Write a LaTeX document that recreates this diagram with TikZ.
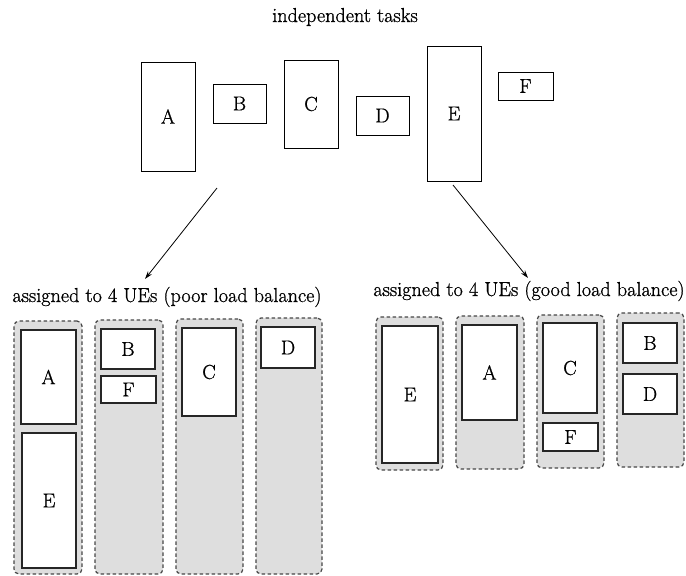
\documentclass[tikz,border=0pt]{standalone}
\usepackage{fontspec}
\newfontfamily\labelfont{Latin Modern Roman}[FakeBold=0.9]
\usetikzlibrary{arrows.meta}
\begin{document}
\begin{tikzpicture}[x=1pt,y=-1pt,
  every node/.style={font=\labelfont\fontsize{20.2}{24}\selectfont},
  box/.style n args={2}{minimum width=#1, minimum height=#2, inner sep=0pt},
  task/.style={draw=black, line width=0.8pt},
  ue/.style={draw=black!72, line width=1.2pt, dash pattern=on 3.5pt off 2.5pt,
    rounded corners=5pt, fill=black!13},
  slot/.style={draw=black!85, line width=1.4pt, fill=white},
  assign/.style={-{Stealth[length=8pt,width=5pt]}, line width=0.8pt},
  caption/.style={anchor=base, inner sep=0pt}]
\useasboundingbox (0,0) rectangle (686,576);

% the six independent tasks
\node[caption] (title) at (345,22) {independent tasks};
\node[task, box={54}{109}] (tA) at (168,116.5) {A};
\node[task, box={53}{39}]  (tB) at (239.5,103.5) {B};
\node[task, box={54}{88}]  (tC) at (311,104) {C};
\node[task, box={53}{39}]  (tD) at (382.5,115.5) {D};
\node[task, box={54}{135}] (tE) at (454,113.5) {E};
\node[task, box={55}{28}]  (tF) at (525.5,86) {F};

% the two assignments
\coordinate (poorStart) at (217,188);
\coordinate (poorEnd) at (145,279);
\coordinate (goodStart) at (453,185);
\coordinate (goodEnd) at (528,278);
\draw[assign] (poorStart) -- (poorEnd);
\draw[assign] (goodStart) -- (goodEnd);

\node[caption] (poorTitle) at (167,302) {assigned to 4 UEs (poor load balance)};
\node[caption] (goodTitle) at (529,296) {assigned to 4 UEs (good load balance)};

% poor load balance: four UEs
\node[ue, box={68}{253}] (p1) at (48,447.5) {};
\node[ue, box={68}{254}] (p2) at (129,447) {};
\node[ue, box={67}{255}] (p3) at (209.5,446.5) {};
\node[ue, box={66}{256}] (p4) at (289,446) {};
\node[slot, box={55}{94}]  (pA) at (48.5,377) {A};
\node[slot, box={54}{135}] (pE) at (49,500.5) {E};
\node[slot, box={54}{40}]  (pB) at (128,349) {B};
\node[slot, box={55}{27}]  (pF) at (128.5,389.5) {F};
\node[slot, box={54}{88}]  (pC) at (209,372) {C};
\node[slot, box={54}{41}]  (pD) at (288,347.5) {D};

% good load balance: four UEs
\node[ue, box={67}{153}] (g1) at (409.5,393.5) {};
\node[ue, box={68}{153}] (g2) at (490,392.5) {};
\node[ue, box={67}{153}] (g3) at (570.5,391.5) {};
\node[ue, box={67}{154}] (g4) at (650.5,390) {};
\node[slot, box={56}{137}] (gE) at (410,394.5) {E};
\node[slot, box={55}{95}]  (gA) at (489.5,372.5) {A};
\node[slot, box={54}{90}]  (gC) at (570,368) {C};
\node[slot, box={55}{28}]  (gF) at (570.5,437) {F};
\node[slot, box={54}{40}]  (gB) at (650,343) {B};
\node[slot, box={54}{40}]  (gD) at (650,394) {D};
\end{tikzpicture}
\end{document}
